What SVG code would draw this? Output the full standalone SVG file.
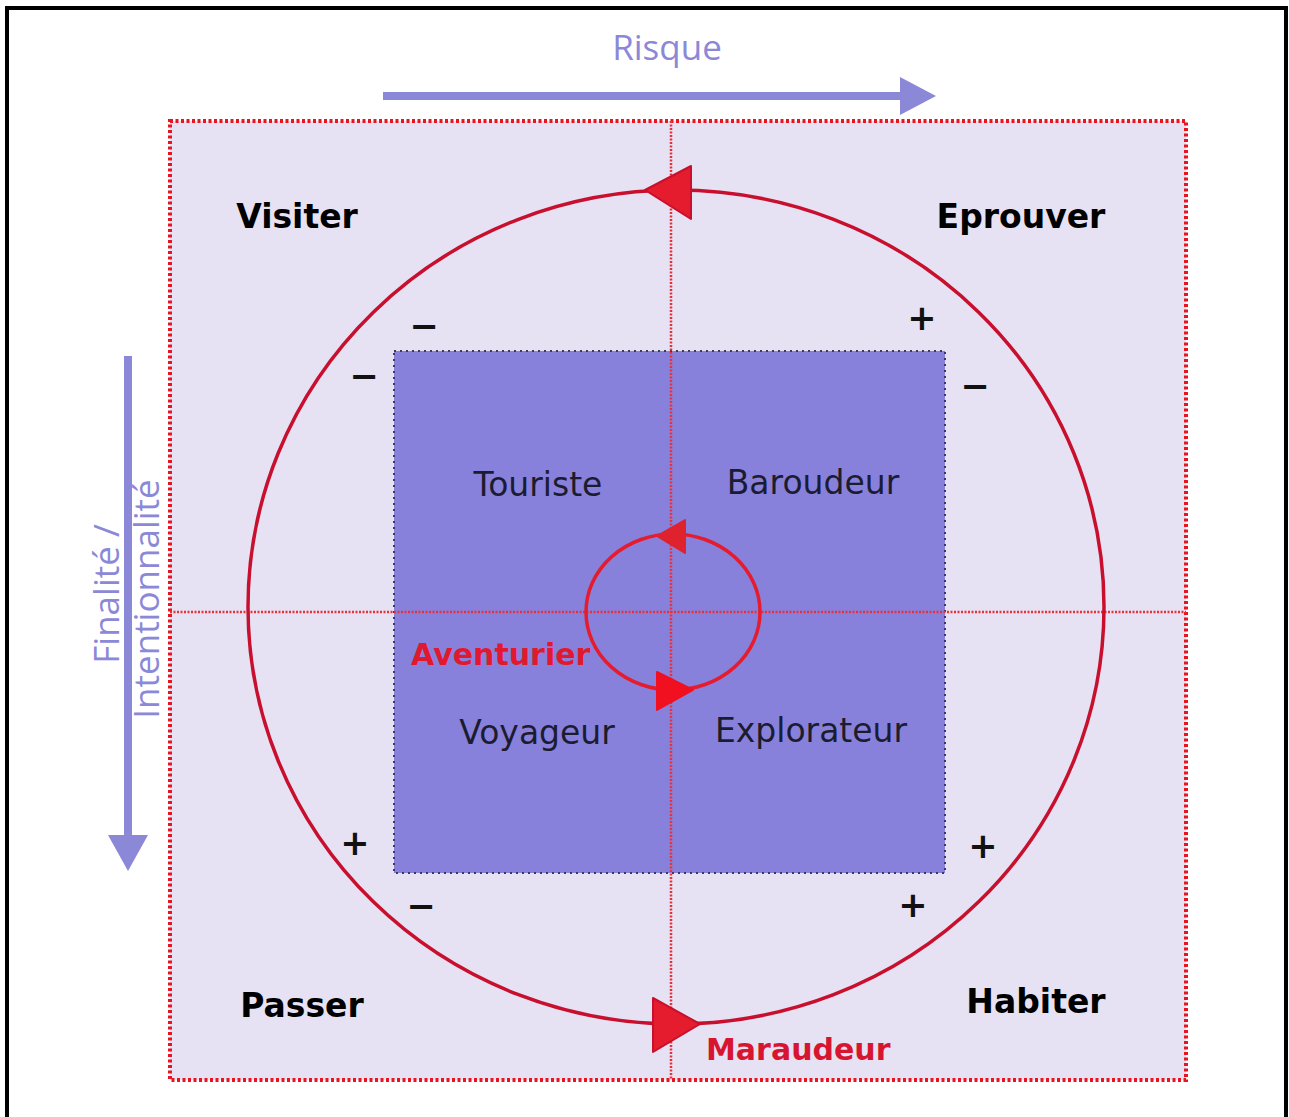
<svg xmlns="http://www.w3.org/2000/svg" width="1289" height="1117" viewBox="0 0 1289 1117">
<style>
.quad{font-family:"DejaVu Sans",sans-serif;font-weight:bold;font-size:33px;fill:#000;text-anchor:middle}
.role{font-family:"DejaVu Sans",sans-serif;font-size:33px;fill:#1c1c30;text-anchor:middle}
.sign{font-family:"DejaVu Sans",sans-serif;font-weight:bold;font-size:35px;fill:#111;text-anchor:middle}
.axis{font-family:"Open Sans","DejaVu Sans",sans-serif;font-size:35px;fill:#8c88d8;text-anchor:middle}
.red{font-family:"DejaVu Sans",sans-serif;font-weight:bold;font-size:30px;fill:#e0192e}
.div{stroke:#e8303a;stroke-width:2.5;stroke-dasharray:2,1.5;fill:none}
.arrowhead{fill:#e51c2e;stroke:#c8102e;stroke-width:2;stroke-linejoin:round}
</style>
<rect x="7" y="8" width="1279" height="1125" fill="#fff" stroke="#000" stroke-width="4"/>
<g id="frame">
<rect x="170" y="121" width="1016" height="959" fill="#e6e2f3" stroke="#e8141f" stroke-width="4" stroke-dasharray="3,2.5"/>
</g>
<g id="inner-square">
<rect x="394" y="351" width="551" height="522" fill="#8881dc" stroke="#3a3a5a" stroke-width="2" stroke-dasharray="2,4"/>
</g>
<g id="connectors">
<line class="div" x1="671" y1="121" x2="671" y2="1080"/>
<line class="div" x1="170" y1="612" x2="1186" y2="612"/>
<ellipse cx="676" cy="607" rx="428" ry="417" fill="none" stroke="#c8102e" stroke-width="3.5"/>
<polygon class="arrowhead" points="645,190 691,166 691,219"/>
<polygon class="arrowhead" points="700,1024 653,998 653,1052"/>
<ellipse cx="673" cy="612" rx="87" ry="78" fill="none" stroke="#e51c2e" stroke-width="3.5"/>
<polygon class="arrowhead" points="657,536 685,520 685,553" style="fill:#e0222e;stroke:#e0222e"/>
<polygon class="arrowhead" points="693,690 657,672 657,710" style="fill:#f01020;stroke:#f01020"/>
<line x1="383" y1="96" x2="905" y2="96" stroke="#8c88d8" stroke-width="8"/>
<polygon points="936,96 900,77 900,115" fill="#8c88d8"/>
<line x1="128" y1="356" x2="128" y2="838" stroke="#8c88d8" stroke-width="8"/>
<polygon points="128,871 108,835 148,835" fill="#8c88d8"/>
</g>
<g id="axis-risque"><text class="axis" x="667" y="60">Risque</text></g>
<g id="axis-finalite">
<text class="axis" transform="translate(119,594) rotate(-90)">Finalité /</text>
<text class="axis" transform="translate(159,599) rotate(-90)">Intentionnalité</text>
</g>
<g id="visiter"><text class="quad" x="297" y="228">Visiter</text></g>
<g id="eprouver"><text class="quad" x="1021" y="228">Eprouver</text></g>
<g id="passer"><text class="quad" x="302" y="1017">Passer</text></g>
<g id="habiter"><text class="quad" x="1036" y="1013">Habiter</text></g>
<g id="touriste"><text class="role" x="538" y="496">Touriste</text></g>
<g id="baroudeur"><text class="role" x="813" y="494">Baroudeur</text></g>
<g id="voyageur"><text class="role" x="537" y="744">Voyageur</text></g>
<g id="explorateur"><text class="role" x="811" y="742">Explorateur</text></g>
<g id="aventurier"><text class="red" x="411" y="665">Aventurier</text></g>
<g id="maraudeur"><text class="red" x="706" y="1060" style="fill:#d81530">Maraudeur</text></g>
<g id="signs">
<text class="sign" x="424" y="338">−</text>
<text class="sign" x="922" y="330">+</text>
<text class="sign" x="364" y="388">−</text>
<text class="sign" x="975" y="398">−</text>
<text class="sign" x="355" y="855">+</text>
<text class="sign" x="983" y="858">+</text>
<text class="sign" x="421" y="918">−</text>
<text class="sign" x="913" y="917">+</text>
</g>
</svg>
